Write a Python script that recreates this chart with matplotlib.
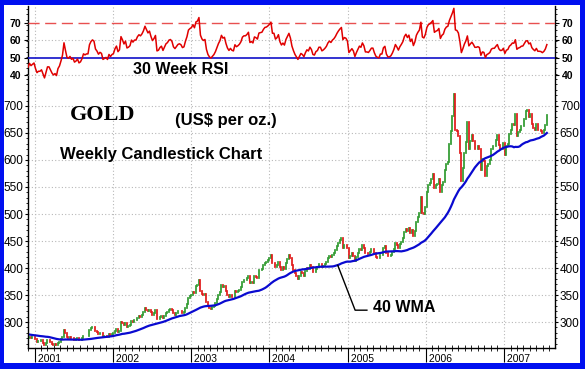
import numpy as np
import pandas as pd
import matplotlib
matplotlib.use('Agg')
import matplotlib.pyplot as plt
import matplotlib.dates as mdates
from matplotlib.ticker import FixedLocator, MultipleLocator
from matplotlib.patches import Rectangle

plt.rcParams['font.family'] = ['Liberation Sans', 'DejaVu Sans']

# weekly gold closes (Friday), US$ per oz, estimated from the chart
c2000 = [282, 285, 289, 285, 310, 312, 301, 294, 292, 289, 286, 285, 279,
         282, 284, 280, 274, 276, 277, 274, 272, 281, 287, 290, 288, 288,
         283, 282, 281, 278, 278, 280, 275, 274, 277, 274, 272, 268, 274,
         272, 273, 270, 265, 266, 265, 264, 267, 270, 273, 271, 272, 273]
c2001 = [268, 264, 265, 265, 266, 262, 258, 262, 266, 266, 263, 260, 258,
         259, 257, 262, 264, 268, 273, 286, 279, 272, 271, 273, 270, 271,
         267, 268, 270, 266, 267, 270, 275, 274, 275, 275, 285, 289, 291,
         290, 283, 281, 278, 280, 279, 273, 274, 275, 273, 278, 276, 278]
c2002 = [279, 284, 287, 282, 284, 301, 298, 294, 298, 291, 292, 294, 302,
         300, 303, 303, 308, 311, 310, 313, 318, 326, 323, 320, 323, 318,
         314, 317, 322, 305, 306, 310, 312, 307, 312, 317, 319, 323, 324,
         322, 316, 314, 317, 320, 321, 320, 317, 318, 326, 333, 345, 348]
c2003 = [350, 356, 353, 366, 368, 377, 357, 352, 350, 352, 338, 330, 326,
         324, 327, 330, 335, 342, 350, 356, 368, 364, 366, 357, 350, 346,
         350, 347, 346, 358, 355, 357, 360, 365, 375, 378, 378, 381, 386,
         372, 374, 372, 385, 384, 382, 396, 397, 398, 405, 410, 411, 414]
c2004 = [418, 424, 410, 410, 402, 405, 412, 402, 397, 401, 398, 410, 417,
         425, 418, 405, 397, 390, 385, 380, 386, 392, 390, 386, 394, 400,
         398, 406, 402, 393, 392, 399, 401, 408, 408, 402, 404, 407, 411,
         418, 422, 420, 425, 428, 433, 440, 446, 451, 455, 438, 443, 442, 438]
c2005 = [419, 423, 427, 423, 413, 421, 428, 435, 433, 443, 438, 427, 427,
         426, 430, 435, 435, 427, 421, 419, 418, 425, 425, 437, 440, 427,
         422, 422, 424, 429, 436, 446, 442, 437, 444, 449, 455, 467, 473,
         468, 474, 464, 470, 459, 468, 486, 495, 502, 531, 502, 500, 513]
c2006 = [541, 554, 558, 565, 574, 548, 553, 556, 565, 541, 554, 560, 582,
         593, 597, 629, 654, 681, 722, 655, 653, 644, 612, 562, 585, 613,
         634, 670, 621, 635, 647, 636, 621, 621, 625, 621, 581, 601, 599,
         571, 588, 593, 600, 620, 625, 625, 637, 647, 628, 620, 621, 632]
c2007 = [609, 626, 630, 648, 655, 666, 665, 685, 645, 652, 655, 662, 663,
         676, 690, 692, 680, 685, 667, 660, 655, 666, 655, 655, 654, 650,
         655, 665, 684]

price_ticks = [300, 350, 400, 450, 500, 550, 600, 650, 700]
rsi_ticks = [40, 50, 60, 70]
rsi_period = 30
ma_period = 40

closes = c2000 + c2001 + c2002 + c2003 + c2004 + c2005 + c2006 + c2007
weeks = pd.date_range('2000-01-07', periods=len(closes), freq='W-FRI')
price = pd.Series(closes, index=weeks, dtype=float)
opens = price.shift(1).fillna(price.iloc[0])
wma = price.rolling(ma_period).mean()
delta = price.diff().dropna()
gain = delta.clip(lower=0).ewm(alpha=1 / rsi_period).mean()
loss = (-delta.clip(upper=0)).ewm(alpha=1 / rsi_period).mean()
rsi = 100 - 100 / (1 + gain / loss)

x0 = pd.Timestamp('2000-12-01')
x1 = pd.Timestamp('2007-08-27')
m = price.index >= x0 - pd.Timedelta(days=6)
mr = rsi.index >= x0 - pd.Timedelta(days=6)

blue = '#0010F0'
fig = plt.figure(figsize=(5.85, 3.69), dpi=100)
fig.patch.set_facecolor(blue)
fig.add_artist(Rectangle((4 / 585, 6 / 369), 576 / 585, 358 / 369,
                         transform=fig.transFigure, facecolor='white',
                         edgecolor='none', zorder=0))

ax = fig.add_axes([28 / 585, 21 / 369, 527 / 585, 342 / 369])
ax.set_facecolor('none')
ax.set_xlim(x0, x1)
ax.set_ylim(252, 885)

# candles
up = price[m] >= opens[m]
lo = np.minimum(price[m], opens[m])
hi = np.maximum(price[m], opens[m])
cols = np.where(up, '#2F9A2F', '#E01818')
lc = ax.vlines(price.index[m], lo, hi, colors=cols, lw=1.25)
lc.set_capstyle('projecting')

ax.plot(wma.index[m], wma[m], color='#0A0AD0', lw=1.6)

# 40 WMA leader
ax.plot([pd.Timestamp('2004-11-16'), pd.Timestamp('2005-02-05'),
         pd.Timestamp('2005-04-01')], [405, 322, 322], color='black', lw=1)
fig.text(373 / 585, 1 - 307 / 369, '40 WMA', fontsize=11.5,
         fontweight='bold', va='center', ha='left')

ax.yaxis.set_major_locator(FixedLocator(price_ticks))
ax.yaxis.set_minor_locator(MultipleLocator(10))
ax.tick_params(axis='y', which='both', left=True, right=True,
               labelleft=True, labelright=True, labelsize=8.5, pad=1)
ax.tick_params(axis='y', which='major', length=2.5)
ax.tick_params(axis='y', which='minor', length=1.5)

ax.xaxis.set_major_locator(mdates.YearLocator())
ax.xaxis.set_minor_locator(mdates.MonthLocator())
ax.xaxis.set_major_formatter(mdates.DateFormatter(' %Y'))
ax.tick_params(axis='x', which='major', length=10, pad=-6, labelsize=7.5)
ax.tick_params(axis='x', which='minor', length=4, direction='inout')
for t in ax.get_xticklabels():
    t.set_horizontalalignment('left')

ax.grid(True, which='major', ls=(0, (1, 2)), color='#B8B8B8', lw=0.8)
ax.spines['top'].set_visible(False)
for s in ['left', 'right', 'bottom']:
    ax.spines[s].set_linewidth(1.0)

# RSI panel
rax = fig.add_axes([28 / 585, 279 / 369, 527 / 585, 84 / 369])
rax.set_facecolor('none')
rax.set_xlim(x0, x1)
rax.set_ylim(31.7, 79.7)
for s in rax.spines.values():
    s.set_visible(False)
rax.set_xticks([])
rax.set_yticks(rsi_ticks, labels=[str(v) for v in rsi_ticks],
               fontweight='bold', fontsize=7.5)
rax.tick_params(axis='y', left=True, right=True, labelleft=True,
                labelright=True, length=3, pad=2)
for v in [40, 60]:
    rax.axhline(v, ls=(0, (1, 2)), color='#B8B8B8', lw=0.8)
rax.axhline(70, ls=(0, (8, 4)), color='#E85050', lw=1.0)
rax.axhline(50, color='#1010C8', lw=1.2)
rax.plot(rsi.index[mr], rsi[mr], color='#E00000', lw=1.1)

fig.text(133 / 585, 1 - 70 / 369, '30 Week RSI', fontsize=11.5,
         fontweight='bold', va='center', ha='left')
fig.text(70 / 585, 1 - 115 / 369, 'GOLD', fontsize=16, fontweight='bold',
         family='Liberation Serif', va='center', ha='left')
fig.text(175 / 585, 1 - 120 / 369, '(US$ per oz.)', fontsize=12,
         fontweight='bold', va='center', ha='left')
fig.text(60 / 585, 1 - 154 / 369, 'Weekly Candlestick Chart', fontsize=12,
         fontweight='bold', va='center', ha='left')

fig.savefig('out.png', dpi=100, facecolor=fig.get_facecolor())
